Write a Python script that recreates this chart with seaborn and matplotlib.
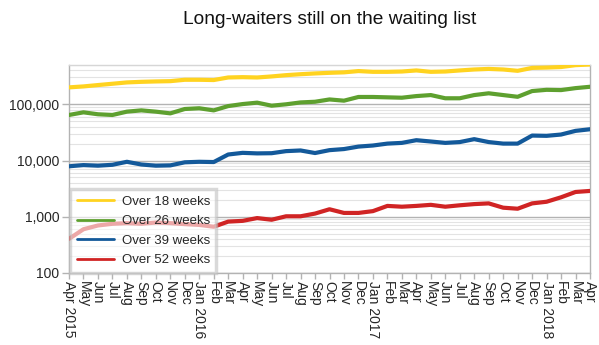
import matplotlib
matplotlib.use("Agg")
import matplotlib.pyplot as plt
import matplotlib.ticker as mticker
import seaborn as sns
import pandas as pd
import numpy as np

months = ["Apr 2015", "May", "Jun", "Jul", "Aug", "Sep", "Oct", "Nov", "Dec",
          "Jan 2016", "Feb", "Mar", "Apr", "May", "Jun", "Jul", "Aug", "Sep",
          "Oct", "Nov", "Dec", "Jan 2017", "Feb", "Mar", "Apr", "May", "Jun",
          "Jul", "Aug", "Sep", "Oct", "Nov", "Dec", "Jan 2018", "Feb", "Mar", "Apr"]

over18 = [200000, 208000, 220000, 232000, 245000, 251000, 255000, 258000, 273000,
          273000, 270000, 300000, 304000, 300000, 313000, 330000, 343000, 354000,
          363000, 370000, 390000, 378000, 378000, 383000, 400000, 378000, 383000,
          400000, 416000, 426000, 416000, 394000, 444000, 450000, 460000, 497000, 510000]
over26 = [64600, 72000, 66500, 64600, 74000, 78000, 74000, 69000, 82500,
          85000, 78000, 93000, 101000, 107000, 94500, 100000, 108000, 111000,
          122000, 116000, 135000, 135000, 133000, 131000, 140000, 146000, 128000,
          128000, 146000, 157000, 146000, 136000, 172000, 181000, 179000, 194000, 205000]
over39 = [7900, 8300, 8100, 8400, 9500, 8500, 8100, 8200, 9300,
          9500, 9400, 12800, 13700, 13400, 13500, 14700, 15100, 13600,
          15300, 16000, 17700, 18500, 20000, 20600, 23000, 21800, 20600,
          21300, 24000, 21300, 20000, 20000, 27800, 27500, 29000, 33700, 36000]
over52 = [405, 600, 700, 750, 770, 750, 790, 770, 740,
          716, 665, 820, 846, 948, 885, 1020, 1020, 1140,
          1360, 1170, 1170, 1260, 1560, 1510, 1560, 1630, 1510,
          1600, 1680, 1730, 1450, 1390, 1730, 1850, 2220, 2760, 2880]

series_names = ["Over 18 weeks", "Over 26 weeks", "Over 39 weeks", "Over 52 weeks"]
colors = ["#FFD320", "#5EA02F", "#13599A", "#D02424"]

idx = np.arange(len(months))
df = pd.concat([
    pd.DataFrame({"x": idx, "value": vals, "series": name})
    for name, vals in zip(series_names, [over18, over26, over39, over52])
])

sns.set_theme(style="white")
plt.rcParams["font.family"] = ["Liberation Sans", "DejaVu Sans"]

fig = plt.figure(figsize=(5.99, 3.45), dpi=100)
ax = fig.add_axes([69/599, 1-273/345, (590-69)/599, (273-65)/345])

sns.lineplot(data=df, x="x", y="value", hue="series", palette=colors,
             linewidth=3.0, ax=ax, legend=True, zorder=3)

ax.set_yscale("log")
ax.set_ylim(100, 500000)
ax.set_xlim(0, len(months)-1)
ax.yaxis.set_major_locator(mticker.FixedLocator([100, 1000, 10000, 100000]))
ax.yaxis.set_major_formatter(mticker.FuncFormatter(lambda v, p: f"{int(v):,}"))
ax.yaxis.set_minor_locator(mticker.LogLocator(base=10, subs=np.arange(2, 10)))
ax.yaxis.set_minor_formatter(mticker.NullFormatter())
ax.grid(True, which="major", axis="y", color="#b3b3b3", linewidth=1.0, zorder=0)
ax.grid(True, which="minor", axis="y", color="#e3e3e3", linewidth=0.8, zorder=0)

ax.set_xticks(idx)
ax.set_xticklabels(months, rotation=-90, fontsize=10, va="top", ha="center")
ax.tick_params(axis="x", which="major", length=4, color="#b3b3b3", width=1, pad=2,
               bottom=True)
ax.tick_params(axis="y", which="major", length=5, color="#b3b3b3", width=1, pad=2,
               labelsize=10, left=True)
ax.tick_params(axis="y", which="minor", length=0)
for s in ax.spines.values():
    s.set_color("#b3b3b3")
    s.set_linewidth(1.0)
ax.spines["top"].set_color("#d6d6d6")

ax.set_xlabel("")
ax.set_ylabel("")
fig.text(0.551, 1-20/345, "Long-waiters still on the waiting list", ha="center",
         va="center", fontsize=13.8, color="#111111")

leg = ax.legend(loc="lower left", bbox_to_anchor=(0.002, 0.0), borderaxespad=0,
                frameon=True, fancybox=False, edgecolor="#c0c0c0", framealpha=0.6,
                fontsize=9.5, handlelength=2.8, labelspacing=0.55,
                handletextpad=0.6, borderpad=0.5, title=None)
leg.get_frame().set_linewidth(2.5)
for line in leg.get_lines():
    line.set_linewidth(2.0)
leg.set_zorder(5)

fig.savefig("out.png", dpi=100)
